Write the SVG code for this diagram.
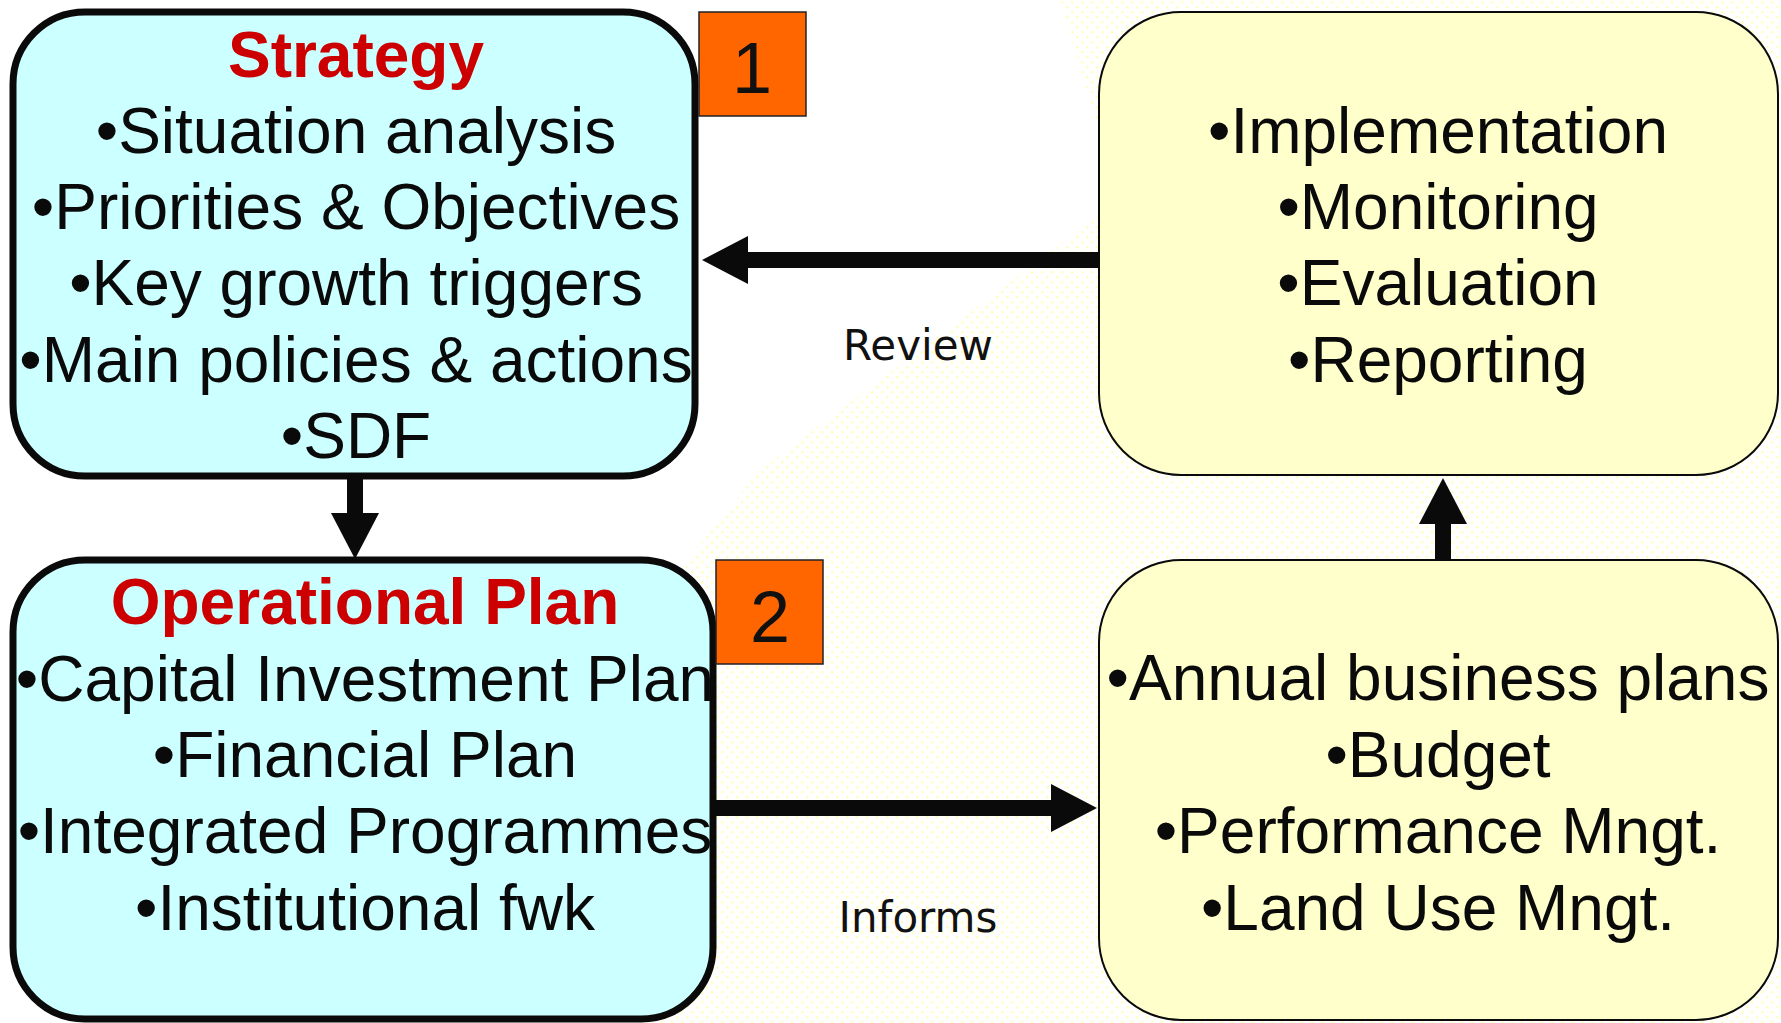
<svg xmlns="http://www.w3.org/2000/svg" width="1781" height="1023" viewBox="0 0 1781 1023">
<style>
.cyan{fill:#CCFFFF;stroke:#0A0A0A;stroke-width:7}
.yel{fill:#FFFFCC;stroke:#0A0A0A;stroke-width:2}
.num{fill:#FF6600;stroke:#222;stroke-width:1.5}
.t{font-family:"Liberation Sans",Arial,sans-serif;font-size:64px;fill:#0A0A0A;text-anchor:middle}
.title{font-family:"Liberation Sans",Arial,sans-serif;font-size:64px;font-weight:bold;fill:#CC0000;text-anchor:middle}
.n{font-family:"Liberation Sans",Arial,sans-serif;font-size:72px;fill:#111;text-anchor:middle}
.lbl{font-family:"DejaVu Sans",Verdana,sans-serif;font-size:42px;fill:#111;text-anchor:middle}
.conn{stroke:#0A0A0A;stroke-width:16;fill:none;marker-end:url(#ah)}
</style>
<defs>
<marker id="ah" markerUnits="userSpaceOnUse" markerWidth="46" markerHeight="48" refX="0" refY="24" orient="auto">
<path d="M0,0 L46,24 L0,48 Z" fill="#0A0A0A"/>
</marker>
<pattern id="dots" patternUnits="userSpaceOnUse" width="10" height="10">
<rect x="1" y="1" width="2.5" height="2.5" fill="#FFFFC4"/>
<rect x="6" y="6" width="2.5" height="2.5" fill="#FFFFC4"/>
</pattern>
</defs>
<rect width="1781" height="1023" fill="#FFFFFF"/>
<polygon points="640,1023 640,620 760,470 1120,200 1060,0 1781,0 1781,1023" fill="url(#dots)"/>

<g id="connectors">
<line class="conn" x1="1099" y1="260" x2="748" y2="260"/>
<line class="conn" x1="716" y1="808" x2="1051" y2="808"/>
<line class="conn" x1="355" y1="479" x2="355" y2="513"/>
<line class="conn" x1="1443" y1="560" x2="1443" y2="524"/>
</g>
<text class="lbl" x="918" y="360">Review</text>
<text class="lbl" x="918" y="932">Informs</text>

<g id="strategy">
<rect class="cyan" x="13" y="12" width="682" height="464" rx="72"/>
<text class="title" x="356" y="77">Strategy</text>
<text class="t" x="356" y="153">•Situation analysis</text>
<text class="t" x="356" y="229">•Priorities &amp; Objectives</text>
<text class="t" x="356" y="305">•Key growth triggers</text>
<text class="t" x="356" y="382">•Main policies &amp; actions</text>
<text class="t" x="356" y="458">•SDF</text>
</g>
<g id="badge1">
<rect class="num" x="699" y="12" width="107" height="104"/>
<text class="n" x="752" y="93">1</text>
</g>

<g id="operational">
<rect class="cyan" x="13" y="560" width="700" height="459" rx="72"/>
<text class="title" x="365" y="624">Operational Plan</text>
<text class="t" x="365" y="701">•Capital Investment Plan</text>
<text class="t" x="365" y="777">•Financial Plan</text>
<text class="t" x="365" y="853">•Integrated Programmes</text>
<text class="t" x="365" y="930">•Institutional fwk</text>
</g>
<g id="badge2">
<rect class="num" x="716" y="560" width="107" height="104"/>
<text class="n" x="770" y="642">2</text>
</g>

<g id="implementation">
<rect class="yel" x="1099" y="12" width="679" height="463" rx="82"/>
<text class="t" x="1438" y="153">•Implementation</text>
<text class="t" x="1438" y="229">•Monitoring</text>
<text class="t" x="1438" y="305">•Evaluation</text>
<text class="t" x="1438" y="382">•Reporting</text>
</g>

<g id="business">
<rect class="yel" x="1099" y="560" width="679" height="460" rx="82"/>
<text class="t" x="1438" y="700">•Annual business plans</text>
<text class="t" x="1438" y="777">•Budget</text>
<text class="t" x="1438" y="853">•Performance Mngt.</text>
<text class="t" x="1438" y="930">•Land Use Mngt.</text>
</g>
</svg>
